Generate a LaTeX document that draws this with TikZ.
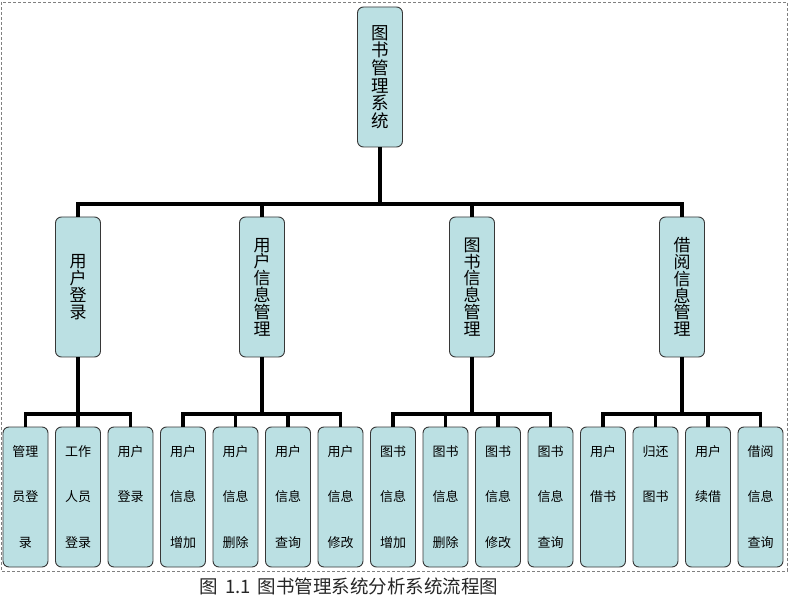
\documentclass[tikz,border=0pt]{standalone}
\usepackage{fontspec}
\setmainfont{Noto Sans CJK SC}
\usepackage{tikz}
\usetikzlibrary{calc}
\definecolor{boxfill}{RGB}{187,224,227}
\definecolor{boxline}{RGB}{55,55,55}
\tikzset{>=stealth,
  box/.style={draw=boxline,fill=boxfill,line width=0.9pt,rounded corners=6pt,
    minimum width=45pt,minimum height=140pt,inner sep=0pt,align=center},
  topbox/.style={box,font=\fontsize{17.5}{17.6}\selectfont},
  midbox/.style={box,font=\fontsize{17}{16.8}\selectfont},
  leafbox/.style={box,font=\fontsize{13}{45.5}\selectfont},
  link/.style={line width=3.6pt,black}}

\begin{document}
\begin{tikzpicture}[x=1pt,y=-1pt]
    \useasboundingbox (0,0) rectangle (795,601);
    \draw[gray,densely dashed,line width=0.6pt] (1,2) rectangle (787,571);
    % top
    \node[topbox] at (380,77) (sys) {图\\书\\管\\理\\系\\统};
    \coordinate (bar) at (380,204);
    % second row
    \node[midbox] at (78,287)  (login) {用\\户\\登\\录};
    \node[midbox] at (262,287) (user)  {用\\户\\信\\息\\管\\理};
    \node[midbox] at (472,287) (book)  {图\\书\\信\\息\\管\\理};
    \node[midbox] at (682,287) (lend)  {借\\阅\\信\\息\\管\\理};
    \coordinate (barA) at (78,414);
    \coordinate (barB) at (262,414);
    \coordinate (barC) at (472,414);
    \coordinate (barD) at (682,414);
    % third row
    \node[leafbox] at (25.5,497)  (a1) {管理\\员登\\录};
    \node[leafbox] at (78,497)    (a2) {工作\\人员\\登录};
    \node[leafbox] at (130.5,497) (a3) {用户\\登录\\\phantom{用户}};
    \node[leafbox] at (183,497)   (b1) {用户\\信息\\增加};
    \node[leafbox] at (235.5,497) (b2) {用户\\信息\\删除};
    \node[leafbox] at (288,497)   (b3) {用户\\信息\\查询};
    \node[leafbox] at (340.5,497) (b4) {用户\\信息\\修改};
    \node[leafbox] at (393,497)   (c1) {图书\\信息\\增加};
    \node[leafbox] at (445.5,497) (c2) {图书\\信息\\删除};
    \node[leafbox] at (498,497)   (c3) {图书\\信息\\修改};
    \node[leafbox] at (550.5,497) (c4) {图书\\信息\\查询};
    \node[leafbox] at (603,497)   (d1) {用户\\借书\\\phantom{用户}};
    \node[leafbox] at (655.5,497) (d2) {归还\\图书\\\phantom{用户}};
    \node[leafbox] at (708,497)   (d3) {用户\\续借\\\phantom{用户}};
    \node[leafbox] at (760.5,497) (d4) {借阅\\信息\\查询};
    % links
    \draw[link] (sys.south) -- (bar);
    \draw[link] (login.north) |- (bar);
    \draw[link] (user.north) |- (bar);
    \draw[link] (book.north) |- (bar);
    \draw[link] (lend.north) |- (bar);
    \draw[link] (login.south) -- (barA);
    \draw[link] (user.south) -- (barB);
    \draw[link] (book.south) -- (barC);
    \draw[link] (lend.south) -- (barD);
    \draw[link] (a1.north) |- (barA);
    \draw[link] (a2.north) -- (barA);
    \draw[link] (a3.north) |- (barA);
    \draw[link] (b1.north) |- (barB);
    \draw[link] (b2.north) |- (barB);
    \draw[link] (b3.north) |- (barB);
    \draw[link] (b4.north) |- (barB);
    \draw[link] (c1.north) |- (barC);
    \draw[link] (c2.north) |- (barC);
    \draw[link] (c3.north) |- (barC);
    \draw[link] (c4.north) |- (barC);
    \draw[link] (d1.north) |- (barD);
    \draw[link] (d2.north) |- (barD);
    \draw[link] (d3.north) |- (barD);
    \draw[link] (d4.north) |- (barD);
    % caption
    \node[font=\fontsize{18.5}{20}\selectfont,text=black!85] at (349,586) (cap)
    {图\hspace{7pt}1.1\hspace{7pt}图书管理系统分析系统流程图};
\end{tikzpicture}
\end{document}
